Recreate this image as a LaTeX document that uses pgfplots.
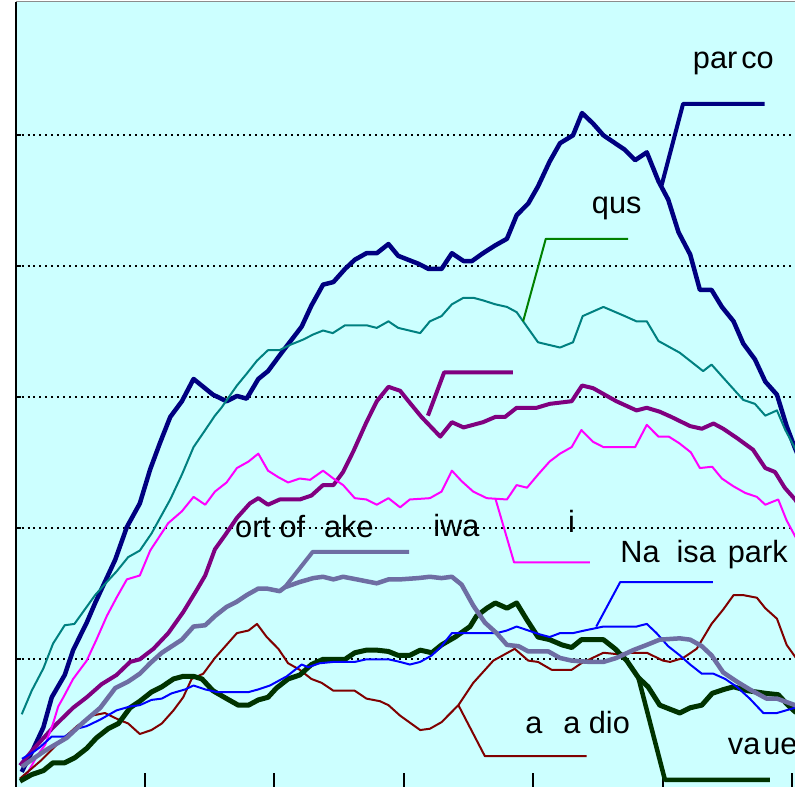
\documentclass[border=0pt]{standalone}
\usepackage{fontspec}
\setmainfont{Liberation Sans}
\usepackage{pgfplots}
\pgfplotsset{compat=1.18}
\definecolor{bgc}{HTML}{CCFFFF}
\definecolor{cnavy}{HTML}{000080}
\definecolor{cteal}{HTML}{008080}
\definecolor{cpurple}{HTML}{800080}
\definecolor{cmag}{HTML}{FF00FF}
\definecolor{cgray}{HTML}{6E6EA3}
\definecolor{cred}{HTML}{800000}
\definecolor{cblue}{HTML}{0000FF}
\definecolor{cdgreen}{HTML}{003300}
\definecolor{cgreen}{HTML}{008000}
\begin{document}
\begin{tikzpicture}[lab/.style={font=\fontsize{30.7bp}{36bp}\selectfont, anchor=base west, inner sep=0pt, text=black}]
\begin{axis}[
 x=6.475bp, y=131bp,
 xmin=0, xmax=125, ymin=0, ymax=6.02,
 clip=false,
 axis line style={draw=none},
 axis background/.style={fill=bgc},
 xtick={20,40,60,80,100,120}, xticklabels={},
 ytick={1,2,3,4,5}, yticklabels={},
 tick align=inside,
 xtick pos=bottom, ytick pos=left,
 xtick style={black,line width=2bp,/pgfplots/major tick length=17bp},
 ytick style={black,line width=2bp,/pgfplots/major tick length=6bp},
 ymajorgrids,
 grid style={black,line width=2bp,dash pattern=on 2bp off 4bp},
 every axis plot/.append style={line join=round, mark=none},
]
% navy (parco)
\addplot[cnavy, line width=4.5bp] coordinates {(0.96,0.14) (2.7,0.31) (4.3,0.48) (5.6,0.71) (7.6,0.88) (8.9,1.07) (11.0,1.28) (12.3,1.43) (13.8,1.59) (15.4,1.76) (17.2,2.01) (19.2,2.19) (20.8,2.45) (22.3,2.65) (23.9,2.85) (25.7,2.97) (27.5,3.14) (30.5,3.02) (32.6,2.97) (34.2,3.01) (35.7,2.99) (37.5,3.14) (39.0,3.20) (41.1,3.34) (44.2,3.54) (45.7,3.70) (47.5,3.86) (49.1,3.88) (50.9,3.98) (52.4,4.05) (54.2,4.10) (55.8,4.10) (57.6,4.17) (59.1,4.08) (62.2,4.02) (63.8,3.98) (65.8,3.98) (67.4,4.10) (69.2,4.04) (70.5,4.04) (72.2,4.10) (74.1,4.16) (75.9,4.21) (77.4,4.39) (79.2,4.48) (80.7,4.61) (82.5,4.80) (84.1,4.94) (86.1,5.00) (87.5,5.17) (89.2,5.09) (90.8,5.00) (92.3,4.95) (94.1,4.89) (95.7,4.81) (97.5,4.87) (99.3,4.65) (100.8,4.51) (102.4,4.26) (104.2,4.09) (105.7,3.82) (107.5,3.82) (109.1,3.69) (110.9,3.58) (112.4,3.41) (114.2,3.29) (115.8,3.12) (117.6,3.02) (119.1,2.78) (120.4,2.61) (124,2.2)};
% teal (qus)
\addplot[cteal, line width=2bp] coordinates {(0.96,0.58) (2.5,0.76) (4.3,0.93) (5.8,1.12) (7.6,1.26) (9.1,1.27) (10.7,1.38) (12.3,1.49) (14.1,1.59) (15.6,1.67) (17.4,1.78) (19.2,1.83) (21.0,1.96) (23.9,2.22) (25.7,2.41) (27.5,2.62) (29.3,2.75) (30.8,2.86) (31.8,2.92) (34.2,3.09) (35.7,3.18) (37.3,3.28) (39.0,3.36) (40.8,3.36) (42.4,3.40) (44.4,3.44) (46.0,3.48) (47.5,3.51) (49.0,3.49) (50.9,3.55) (54.2,3.55) (55.8,3.53) (57.6,3.58) (59.1,3.53) (62.5,3.49) (64.0,3.58) (65.8,3.62) (67.4,3.71) (69.2,3.76) (70.7,3.76) (72.2,3.74) (74.1,3.71) (75.9,3.69) (77.4,3.65) (78.4,3.58) (80.7,3.42) (84.1,3.38) (86.1,3.42) (87.6,3.62) (90.8,3.69) (94.1,3.62) (95.9,3.58) (97.5,3.58) (99.3,3.43) (102.6,3.34) (106.2,3.20) (107.5,3.25) (109.3,3.15) (112.4,2.98) (114.2,2.95) (115.8,2.86) (117.6,2.90) (118.9,2.75) (120.4,2.61) (124,2.2)};
% purple (iwa)
\addplot[cpurple, line width=4bp] coordinates {(0.7,0.19) (2.7,0.31) (5.8,0.48) (8.9,0.63) (11.0,0.71) (13.3,0.81) (15.6,0.88) (17.7,0.98) (19.2,1.00) (21.3,1.08) (23.6,1.20) (25.9,1.36) (28.0,1.53) (29.3,1.64) (30.8,1.84) (32.4,1.95) (34.2,2.08) (36.2,2.19) (37.5,2.23) (39.0,2.18) (40.8,2.22) (43.9,2.22) (45.7,2.25) (47.5,2.33) (49.1,2.33) (50.6,2.43) (52.2,2.59) (54.2,2.81) (55.8,2.97) (57.6,3.08) (59.4,3.05) (60.7,2.97) (62.7,2.85) (65.6,2.70) (67.4,2.81) (69.2,2.77) (72.2,2.81) (74.1,2.85) (75.6,2.85) (77.4,2.92) (80.5,2.92) (82.5,2.95) (85.9,2.97) (87.5,3.09) (89.2,3.07) (92.8,2.97) (95.9,2.90) (97.5,2.92) (99.5,2.89) (101.3,2.85) (104.2,2.78) (106.0,2.76) (107.8,2.80) (109.3,2.76) (111.4,2.69) (113.9,2.60) (115.8,2.46) (117.3,2.43) (118.8,2.31) (120.4,2.22) (124,1.95)};
% magenta (i)
\addplot[cmag, line width=2bp] coordinates {(1.5,0.10) (3.3,0.26) (4.6,0.35) (5.8,0.51) (6.6,0.64) (7.4,0.71) (8.9,0.85) (11.0,0.99) (12.5,1.15) (14.1,1.33) (15.6,1.47) (17.2,1.61) (19.2,1.64) (20.8,1.83) (23.6,2.04) (25.7,2.13) (27.5,2.24) (29.3,2.18) (30.8,2.28) (32.6,2.35) (34.2,2.46) (36.0,2.51) (37.5,2.57) (39.0,2.44) (40.6,2.39) (42.1,2.35) (43.9,2.38) (45.5,2.37) (47.5,2.44) (49.1,2.38) (50.6,2.33) (52.4,2.23) (54.2,2.22) (55.8,2.18) (57.6,2.23) (59.4,2.16) (60.9,2.22) (64.0,2.23) (65.8,2.28) (67.4,2.44) (68.9,2.36) (70.7,2.28) (72.8,2.23) (75.9,2.22) (77.4,2.33) (79.0,2.31) (80.7,2.41) (82.5,2.51) (84.1,2.57) (85.9,2.62) (87.4,2.75) (89.2,2.66) (90.8,2.62) (95.7,2.62) (97.5,2.79) (99.3,2.70) (100.9,2.70) (102.5,2.65) (104.3,2.58) (105.7,2.46) (107.6,2.47) (109.1,2.38) (110.9,2.32) (112.7,2.27) (114.5,2.24) (115.8,2.18) (117.8,2.22) (119.1,2.06) (120.4,1.94) (124,1.6)};
% dark red (a a dio)
\addplot[cred, line width=2bp] coordinates {(0.7,0.09) (4.0,0.23) (6.6,0.36) (9.5,0.49) (11.8,0.57) (13.8,0.59) (15.9,0.54) (17.4,0.51) (19.2,0.43) (21.0,0.46) (22.6,0.51) (24.4,0.61) (25.9,0.71) (27.2,0.85) (29.0,0.89) (30.8,1.01) (34.2,1.20) (36.0,1.22) (37.3,1.27) (38.8,1.17) (40.6,1.08) (42.1,0.97) (43.9,0.92) (45.7,0.85) (47.3,0.82) (49.1,0.76) (52.4,0.76) (54.2,0.70) (56.3,0.68) (57.6,0.65) (59.4,0.57) (62.5,0.46) (64.0,0.47) (65.8,0.52) (68.4,0.65) (70.7,0.82) (73.8,0.99) (77.1,1.08) (79.2,0.99) (80.7,0.98) (82.8,0.92) (85.9,0.92) (87.4,0.97) (90.8,1.05) (92.8,1.04) (95.4,1.05) (97.5,1.05) (100.0,0.99) (101.1,0.98) (103.1,1.01) (105.2,1.08) (107.5,1.27) (109.3,1.38) (110.9,1.49) (112.4,1.49) (114.5,1.47) (115.8,1.39) (117.6,1.31) (119.1,1.11) (120.4,1.02) (124,0.8)};
% dark green (va ue)
\addplot[cdgreen, line width=5bp] coordinates {(0.7,0.07) (2.5,0.12) (4.3,0.15) (5.8,0.21) (7.6,0.21) (9.2,0.25) (11.0,0.32) (12.5,0.40) (14.3,0.47) (15.9,0.51) (17.7,0.63) (19.2,0.68) (21.0,0.75) (22.6,0.79) (24.4,0.85) (25.9,0.87) (27.5,0.87) (28.8,0.85) (30.5,0.76) (32.6,0.70) (34.4,0.65) (36.0,0.65) (37.5,0.69) (39.0,0.71) (40.3,0.78) (42.1,0.85) (43.9,0.88) (45.7,0.96) (47.5,1.00) (50.9,1.00) (52.4,1.05) (54.2,1.07) (55.8,1.07) (57.6,1.06) (59.1,1.03) (60.9,1.03) (62.5,1.07) (64.3,1.05) (65.8,1.11) (67.9,1.17) (70.2,1.25) (71.2,1.33) (72.8,1.39) (74.1,1.43) (75.9,1.39) (77.4,1.43) (79.0,1.30) (80.7,1.17) (82.5,1.15) (84.4,1.11) (85.9,1.09) (87.4,1.15) (90.8,1.15) (92.6,1.08) (94.4,0.99) (96.2,0.86) (97.7,0.79) (99.5,0.65) (102.6,0.59) (104.2,0.63) (106.0,0.65) (107.6,0.74) (109.4,0.77) (110.9,0.79) (113.1,0.76) (115.9,0.74) (117.8,0.73) (119.3,0.65) (120.4,0.60) (124,0.5)};
% blue (Na isa park)
\addplot[cblue, line width=2bp] coordinates {(1.0,0.24) (2.7,0.29) (3.8,0.33) (5.6,0.41) (7.6,0.41) (9.5,0.47) (11.0,0.49) (13.1,0.54) (15.6,0.61) (17.7,0.64) (19.2,0.65) (21.0,0.69) (22.6,0.70) (24.1,0.74) (26.2,0.77) (27.5,0.80) (29.3,0.77) (31.1,0.75) (36.0,0.75) (37.5,0.77) (39.3,0.80) (41.9,0.87) (44.2,0.96) (45.2,0.94) (47.0,0.97) (49.1,0.98) (52.4,0.98) (54.2,1.00) (57.6,1.00) (59.4,0.98) (60.9,0.96) (62.5,0.98) (64.3,1.03) (65.8,1.10) (67.4,1.20) (74.3,1.20) (75.9,1.22) (77.4,1.25) (79.2,1.22) (81.0,1.19) (82.5,1.17) (84.1,1.20) (86.1,1.20) (87.9,1.22) (90.8,1.25) (95.9,1.25) (97.5,1.27) (99.0,1.20) (100.8,1.10) (102.6,1.03) (104.2,0.96) (106.0,0.89) (107.8,0.89) (109.6,0.85) (111.4,0.79) (113.4,0.70) (115.5,0.59) (117.6,0.59) (120.4,0.63) (124,0.6)};
% gray-blue (ort of ake)
\addplot[cgray, line width=4.5bp] coordinates {(1.0,0.18) (2.7,0.24) (4.8,0.31) (7.9,0.40) (10.5,0.52) (13.1,0.63) (15.4,0.78) (17.4,0.83) (19.2,0.89) (20.8,0.97) (22.6,1.05) (25.7,1.15) (27.5,1.25) (29.3,1.26) (30.8,1.33) (32.6,1.40) (34.2,1.44) (35.7,1.49) (37.5,1.54) (38.8,1.54) (40.8,1.52) (41.6,1.55) (43.9,1.59) (46.0,1.62) (47.5,1.63) (49.1,1.61) (50.6,1.63) (52.7,1.61) (55.8,1.58) (57.6,1.61) (59.4,1.61) (62.2,1.62) (64.0,1.63) (65.8,1.62) (67.4,1.63) (68.9,1.57) (70.7,1.41) (72.5,1.28) (74.3,1.20) (75.9,1.11) (77.7,1.10) (79.2,1.06) (82.3,1.06) (84.1,1.01) (85.9,0.99) (88.7,0.98) (90.8,0.98) (92.8,1.01) (95.4,1.07) (97.5,1.11) (99.5,1.15) (102.6,1.16) (104.2,1.15) (106.0,1.10) (107.5,1.03) (109.3,0.90) (111.4,0.83) (113.4,0.77) (116.0,0.70) (117.6,0.70) (120.4,0.65) (124,0.6)};
% label leaders
\addplot[cnavy, line width=4bp] coordinates {(99.8,4.62) (103.1,5.24) (115.7,5.24)};
\addplot[cgreen, line width=2bp] coordinates {(78.4,3.58) (81.9,4.21) (94.6,4.21)};
\addplot[cpurple, line width=4bp] coordinates {(63.7,2.86) (66.2,3.19) (76.8,3.19)};
\addplot[cmag, line width=2bp] coordinates {(74.1,2.23) (77.0,1.74) (88.7,1.74)};
\addplot[cgray, line width=4bp] coordinates {(41.6,1.55) (45.9,1.82) (60.8,1.82)};
\addplot[cred, line width=2bp] coordinates {(68.4,0.65) (72.5,0.26) (88.2,0.26)};
\addplot[cblue, line width=2bp] coordinates {(89.7,1.25) (93.4,1.59) (107.7,1.59)};
\addplot[cdgreen, line width=4.5bp] coordinates {(96.2,0.86) (100.3,0.08) (116.5,0.08)};
% labels
\node[lab] at (axis cs:104.6,5.51) {par\hspace{4bp}co};
\node[lab] at (axis cs:89.0,4.40) {qus};
\node[lab] at (axis cs:33.9,1.93) {ort of\hspace{19bp}ake};
\node[lab] at (axis cs:64.5,1.94) {iwa};
\node[lab] at (axis cs:85.3,1.97) {i};
\node[lab] at (axis cs:93.4,1.74) {Na\hspace{17bp}isa\hspace{12bp}park};
\node[lab] at (axis cs:78.7,0.435) {a\hspace{21bp}a dio};
\node[lab] at (axis cs:110.0,0.27) {va\hspace{3bp}ue};
% frame
\draw[black, line width=2bp] (axis cs:0,0) -- (axis cs:0,6.02);
\draw[black, line width=2bp] (axis cs:0,0) -- (axis cs:125,0);
\draw[black!45, line width=1.5bp] (axis cs:0,6.02) -- (axis cs:125,6.02);
\coordinate (BL) at (axis cs:-2.394,0.0328);
\coordinate (TR) at (axis cs:120.39,6.033);
\end{axis}
\pgfresetboundingbox
\useasboundingbox (BL) rectangle (TR);
\end{tikzpicture}
\end{document}
